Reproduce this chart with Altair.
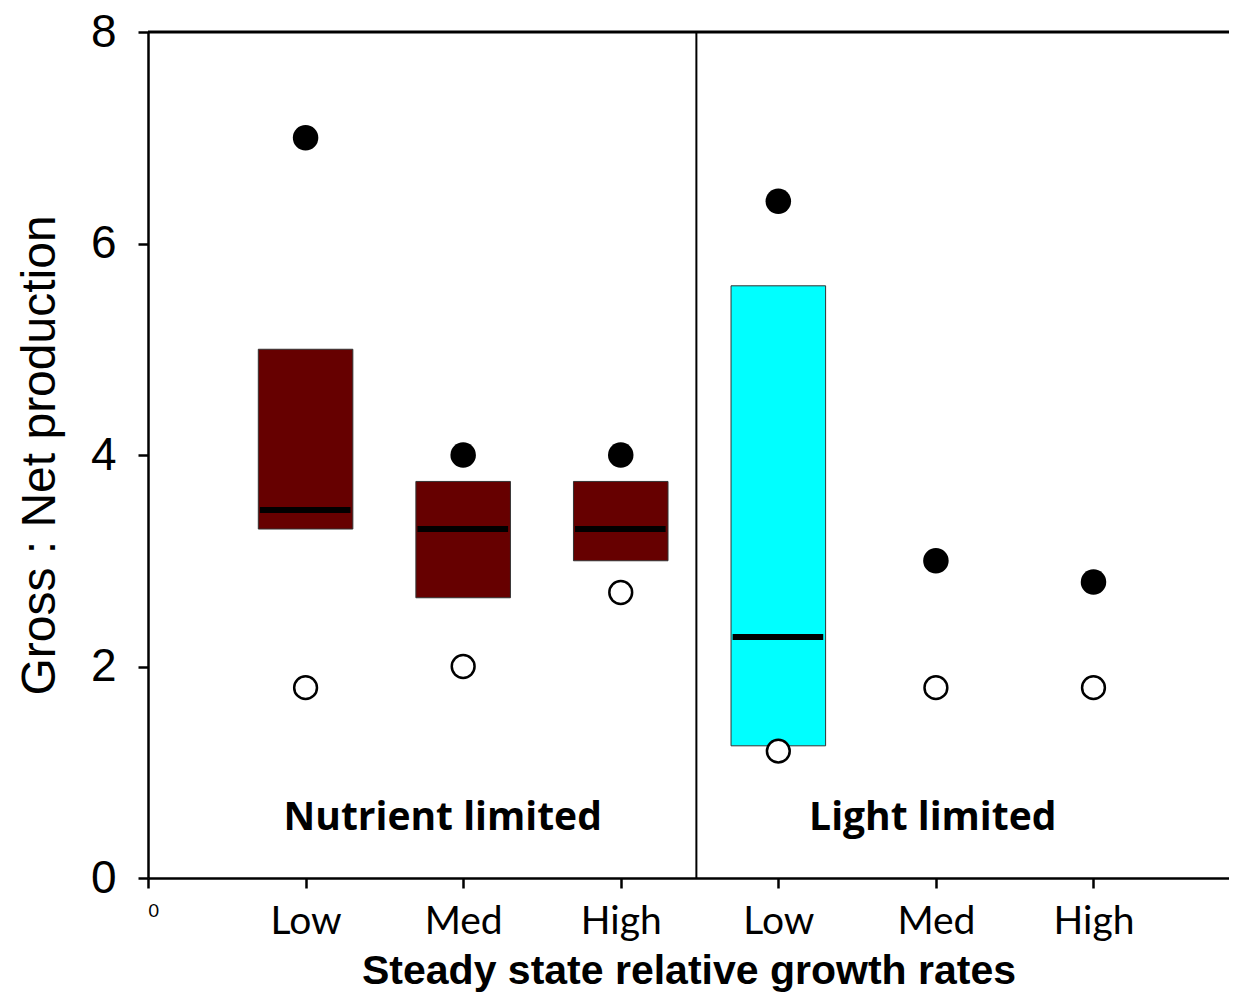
import altair as alt
import pandas as pd

# ---- data ----
positions = [1, 2, 3, 4, 5, 6]
levels = ["Low", "Med", "High", "Low", "Med", "High"]
conditions = ["Nutrient limited"] * 3 + ["Light limited"] * 3
filled_vals = [7.0, 4.0, 4.0, 6.4, 3.0, 2.8]
open_vals = [1.8, 2.0, 2.7, 1.2, 1.8, 1.8]

box_positions = [1, 2, 3, 4]
box_low = [3.3, 2.65, 3.0, 1.25]
box_high = [5.0, 3.75, 3.75, 5.6]
box_median = [3.48, 3.3, 3.3, 2.28]
box_colors = ["#660000", "#660000", "#660000", "#00FFFF"]

group_labels = ["Nutrient limited", "Light limited"]
group_label_x = [1.87, 4.98]
group_label_y = [0.57, 0.57]

tick_labels = ["0"] + levels
divider_x = 3.48
x_max = 6.86
y_max = 8

points = pd.DataFrame({"pos": positions, "level": levels, "condition": conditions,
                       "filled": filled_vals, "open": open_vals})
boxes = pd.DataFrame({"pos": box_positions, "low": box_low, "high": box_high,
                      "median": box_median, "color": box_colors})
labels = pd.DataFrame({"text": group_labels, "x": group_label_x, "y": group_label_y})
frame = pd.DataFrame({"x0": [0], "x1": [x_max], "y0": [0], "y1": [y_max], "div": [divider_x]})

label_expr = "[" + ",".join("'%s'" % t for t in tick_labels) + "][datum.value]"

x_scale = alt.Scale(domain=[0, x_max], nice=False, zero=False)
y_scale = alt.Scale(domain=[0, y_max], nice=False)

x_axis = alt.Axis(
    title="Steady state relative growth rates",
    values=[0, 1, 2, 3, 4, 5, 6],
    labelExpr=label_expr,
    labelFont="Lato",
    labelFontSize={"condition": {"test": "datum.value == 0", "value": 18}, "value": 39},
    labelColor="black",
    labelPadding=14,
    tickSize=10, tickWidth=2.5, tickColor="black",
    domainColor="black", domainWidth=2.5,
    grid=False,
    titleFont="Liberation Sans",
    titleFontSize=41, titleFontWeight="bold", titleColor="black",
    titlePadding=10,
)
y_axis = alt.Axis(
    title="Gross : Net production",
    values=[0, 2, 4, 6, 8],
    format="d",
    labelFont="Liberation Sans", labelFontSize=46, labelColor="black",
    labelPadding=22,
    tickSize=10, tickWidth=2.5, tickColor="black",
    domainColor="black", domainWidth=2.5,
    grid=False,
    titleFont="Liberation Sans", titleFontSize=48, titleFontWeight="normal",
    titleColor="black", titlePadding=26,
)

box_layer = alt.Chart(boxes).transform_calculate(
    left="datum.pos - 0.3", right="datum.pos + 0.3"
).mark_rect(stroke="#333333", strokeWidth=1).encode(
    x=alt.X("left:Q", scale=x_scale, axis=x_axis),
    x2="right:Q",
    y=alt.Y("low:Q", scale=y_scale, axis=y_axis),
    y2="high:Q",
    color=alt.Color("color:N", scale=None),
)

median_layer = alt.Chart(boxes).transform_calculate(
    left="datum.pos - 0.29", right="datum.pos + 0.285"
).mark_rule(color="black", strokeWidth=6).encode(
    x=alt.X("left:Q", scale=x_scale),
    x2="right:Q",
    y=alt.Y("median:Q", scale=y_scale),
)

filled_layer = alt.Chart(points).mark_point(
    shape="circle", filled=True, color="black", size=650, opacity=1
).encode(x=alt.X("pos:Q", scale=x_scale), y=alt.Y("filled:Q", scale=y_scale))

open_layer = alt.Chart(points).mark_point(
    shape="circle", filled=True, fill="white", stroke="black", strokeWidth=2.5,
    size=520, opacity=1
).encode(x=alt.X("pos:Q", scale=x_scale), y=alt.Y("open:Q", scale=y_scale))

top_rule = alt.Chart(frame).mark_rule(color="black", strokeWidth=3).encode(
    x=alt.X("x0:Q", scale=x_scale), x2="x1:Q", y=alt.Y("y1:Q", scale=y_scale)
)
divider = alt.Chart(frame).mark_rule(color="black", strokeWidth=2).encode(
    x=alt.X("div:Q", scale=x_scale), y=alt.Y("y0:Q", scale=y_scale), y2="y1:Q"
)

text_layer = alt.Chart(labels).mark_text(
    font="Open Sans", fontSize=39, fontWeight="bold", color="black", baseline="middle"
).encode(x=alt.X("x:Q", scale=x_scale), y=alt.Y("y:Q", scale=y_scale), text="text:N")

chart = alt.layer(
    box_layer, median_layer, divider, top_rule, filled_layer, open_layer, text_layer
).properties(
    width=1081, height=846,
    autosize=alt.AutoSizeParams(type="none"),
    padding={"left": 140, "top": 24, "right": 0, "bottom": 117},
    background="white",
).configure_view(stroke=None)

chart.save("out.html", embed_options={"renderer": "svg", "actions": False})
